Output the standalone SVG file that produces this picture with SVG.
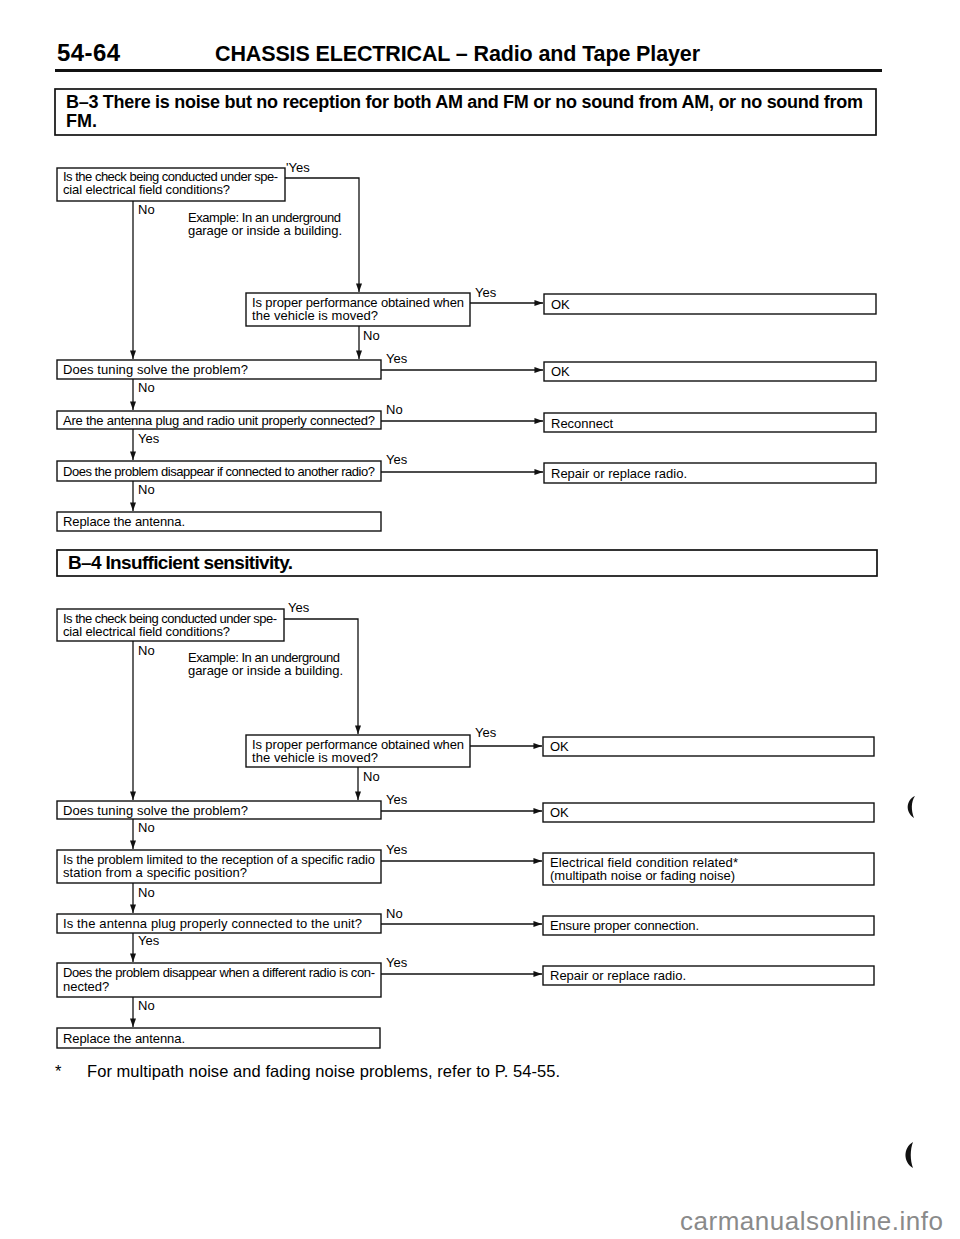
<svg xmlns="http://www.w3.org/2000/svg" width="960" height="1239" viewBox="0 0 960 1239">
<defs>
<style>
.bx{fill:#fff;stroke:#111;stroke-width:1.4}
.hb{fill:#fff;stroke:#111;stroke-width:1.7}
.t{font-family:"Liberation Sans",Arial,Helvetica,sans-serif;font-size:13px;fill:#000}
.l{font-family:"Liberation Sans",Arial,Helvetica,sans-serif;font-size:13px;fill:#000}
.h{font-family:"Liberation Sans",Arial,Helvetica,sans-serif;font-weight:bold;fill:#000}
.f{font-family:"Liberation Sans",Arial,Helvetica,sans-serif;font-size:16.5px;fill:#000}
.a{fill:none;stroke:#111;stroke-width:1.3;marker-end:url(#ah)}
</style>
<marker id="ah" viewBox="0 0 10 7" refX="10" refY="3.5" markerWidth="9" markerHeight="6" markerUnits="userSpaceOnUse" orient="auto"><path d="M0,0 L10,3.5 L0,7 z" fill="#111"/></marker>
</defs>
<rect width="960" height="1239" fill="#fff"/>

<g id="page-header">
<text class="h" x="57" y="61" font-size="24" textLength="63">54-64</text>
<text class="h" x="215" y="61" font-size="21.5" textLength="485">CHASSIS ELECTRICAL – Radio and Tape Player</text>
<line x1="55" y1="70.5" x2="882" y2="70.5" stroke="#111" stroke-width="3"/>
</g>

<g id="b3-title">
<rect class="hb" x="55" y="89" width="821" height="46"/>
<text class="h" x="66" y="108" font-size="18" textLength="797">B–3 There is noise but no reception for both AM and FM or no sound from AM, or no sound from</text>
<text class="h" x="66" y="127" font-size="18">FM.</text>
</g>

<g id="b3-q1">
<rect class="bx" x="57" y="168" width="228" height="33"/>
<text class="t" x="63" y="181" textLength="215">Is the check being conducted under spe-</text>
<text class="t" x="63" y="194" textLength="167">cial electrical field conditions?</text>
</g>
<g id="b3-note">
<text class="t" x="188" y="222" textLength="153">Example: In an underground</text>
<text class="t" x="188" y="235" textLength="154">garage or inside a building.</text>
</g>
<g id="b3-q2">
<rect class="bx" x="246" y="293" width="224" height="33"/>
<text class="t" x="252" y="307" textLength="212">Is proper performance obtained when</text>
<text class="t" x="252" y="320" textLength="126">the vehicle is moved?</text>
</g>
<g id="b3-q3">
<rect class="bx" x="57" y="360" width="324" height="19"/>
<text class="t" x="63" y="374" textLength="185">Does tuning solve the problem?</text>
</g>
<g id="b3-q4">
<rect class="bx" x="57" y="411" width="324" height="18"/>
<text class="t" x="63" y="424.5" textLength="312">Are the antenna plug and radio unit properly connected?</text>
</g>
<g id="b3-q5">
<rect class="bx" x="57" y="461" width="324" height="20"/>
<text class="t" x="63" y="475.5" textLength="312">Does the problem disappear if connected to another radio?</text>
</g>
<g id="b3-end">
<rect class="bx" x="57" y="512" width="324" height="19"/>
<text class="t" x="63" y="526" textLength="122">Replace the antenna.</text>
</g>
<g id="b3-r1">
<rect class="bx" x="544" y="294" width="332" height="20"/>
<text class="t" x="551" y="308.5">OK</text>
</g>
<g id="b3-r2">
<rect class="bx" x="544" y="362" width="332" height="19"/>
<text class="t" x="551" y="376">OK</text>
</g>
<g id="b3-r3">
<rect class="bx" x="544" y="413" width="332" height="19"/>
<text class="t" x="551" y="427.5">Reconnect</text>
</g>
<g id="b3-r4">
<rect class="bx" x="544" y="463" width="332" height="20"/>
<text class="t" x="551" y="477.5" textLength="136">Repair or replace radio.</text>
</g>

<g id="b4-title">
<rect class="hb" x="57" y="550" width="820" height="26"/>
<text class="h" x="68" y="569" font-size="19" textLength="225">B–4  Insufficient sensitivity.</text>
</g>

<g id="b4-q1">
<rect class="bx" x="57" y="609" width="227" height="32"/>
<text class="t" x="63" y="622.5" textLength="214">Is the check being conducted under spe-</text>
<text class="t" x="63" y="636" textLength="167">cial electrical field conditions?</text>
</g>
<g id="b4-note">
<text class="t" x="188" y="662" textLength="152">Example: In an underground</text>
<text class="t" x="188" y="675" textLength="155">garage or inside a building.</text>
</g>
<g id="b4-q2">
<rect class="bx" x="246" y="735" width="224" height="32"/>
<text class="t" x="252" y="748.5" textLength="212">Is proper performance obtained when</text>
<text class="t" x="252" y="761.5" textLength="126">the vehicle is moved?</text>
</g>
<g id="b4-q3">
<rect class="bx" x="57" y="801" width="324" height="18"/>
<text class="t" x="63" y="814.5" textLength="185">Does tuning solve the problem?</text>
</g>
<g id="b4-q4">
<rect class="bx" x="57" y="850" width="324" height="33"/>
<text class="t" x="63" y="863.5" textLength="312">Is the problem limited to the reception of a specific radio</text>
<text class="t" x="63" y="877" textLength="184">station from a specific position?</text>
</g>
<g id="b4-q5">
<rect class="bx" x="57" y="914" width="324" height="19"/>
<text class="t" x="63" y="928" textLength="299">Is the antenna plug properly connected to the unit?</text>
</g>
<g id="b4-q6">
<rect class="bx" x="57" y="963" width="324" height="34"/>
<text class="t" x="63" y="977" textLength="312">Does the problem disappear when a different radio is con-</text>
<text class="t" x="63" y="990.5">nected?</text>
</g>
<g id="b4-end">
<rect class="bx" x="57" y="1028" width="323" height="20"/>
<text class="t" x="63" y="1042.5" textLength="122">Replace the antenna.</text>
</g>
<g id="b4-r1">
<rect class="bx" x="543" y="737" width="331" height="19"/>
<text class="t" x="550" y="751">OK</text>
</g>
<g id="b4-r2">
<rect class="bx" x="543" y="803" width="331" height="19"/>
<text class="t" x="550" y="817">OK</text>
</g>
<g id="b4-r3">
<rect class="bx" x="543" y="853" width="331" height="32"/>
<text class="t" x="550" y="867" textLength="188">Electrical field condition related*</text>
<text class="t" x="550" y="880" textLength="185">(multipath noise or fading noise)</text>
</g>
<g id="b4-r4">
<rect class="bx" x="543" y="916" width="331" height="19"/>
<text class="t" x="550" y="930" textLength="149">Ensure proper connection.</text>
</g>
<g id="b4-r5">
<rect class="bx" x="543" y="966" width="331" height="19"/>
<text class="t" x="550" y="980" textLength="136">Repair or replace radio.</text>
</g>

<g id="connectors">
<path class="a" d="M285,178 H359 V292"/>
<path class="a" d="M133,201 V359"/>
<path class="a" d="M470,303 H543"/>
<path class="a" d="M359,326 V359"/>
<path class="a" d="M381,370 H543"/>
<path class="a" d="M133,379 V410"/>
<path class="a" d="M381,421 H543"/>
<path class="a" d="M133,429 V460"/>
<path class="a" d="M381,472 H543"/>
<path class="a" d="M133,481 V511"/>

<path class="a" d="M284,619 H358 V734"/>
<path class="a" d="M133,641 V800"/>
<path class="a" d="M470,746 H542"/>
<path class="a" d="M358,767 V800"/>
<path class="a" d="M381,811 H542"/>
<path class="a" d="M133,819 V849"/>
<path class="a" d="M381,861 H542"/>
<path class="a" d="M133,883 V913"/>
<path class="a" d="M381,924 H542"/>
<path class="a" d="M133,933 V962"/>
<path class="a" d="M381,974 H542"/>
<path class="a" d="M133,997 V1027"/>

<g id="connector-labels">
<text class="l" x="286" y="172">'Yes</text>
<text class="l" x="138" y="214">No</text>
<text class="l" x="475" y="297">Yes</text>
<text class="l" x="363" y="340">No</text>
<text class="l" x="386" y="363">Yes</text>
<text class="l" x="138" y="392">No</text>
<text class="l" x="386" y="414">No</text>
<text class="l" x="138" y="443">Yes</text>
<text class="l" x="386" y="464">Yes</text>
<text class="l" x="138" y="494">No</text>

<text class="l" x="288" y="612">Yes</text>
<text class="l" x="138" y="655">No</text>
<text class="l" x="475" y="737">Yes</text>
<text class="l" x="363" y="781">No</text>
<text class="l" x="386" y="804">Yes</text>
<text class="l" x="138" y="832">No</text>
<text class="l" x="386" y="854">Yes</text>
<text class="l" x="138" y="897">No</text>
<text class="l" x="386" y="918">No</text>
<text class="l" x="138" y="945">Yes</text>
<text class="l" x="386" y="967">Yes</text>
<text class="l" x="138" y="1010">No</text>
</g>
</g>

<g id="footnote">
<text class="f" x="55" y="1077">*</text>
<text class="f" x="87" y="1077" textLength="473">For multipath noise and fading noise problems, refer to P. 54-55.</text>
</g>

<g id="scan-marks" fill="#111">
<path d="M915,796 C906,800 905,812 914,818 C911,810 911,802 915,796 Z"/>
<path d="M913,1142 C903,1148 903,1162 913,1168 C910,1160 910,1150 913,1142 Z"/>
</g>

<text x="680" y="1230" font-family="'Liberation Sans',Arial,sans-serif" font-size="26" fill="#8a8a8a" textLength="263">carmanualsonline.info</text>
</svg>
